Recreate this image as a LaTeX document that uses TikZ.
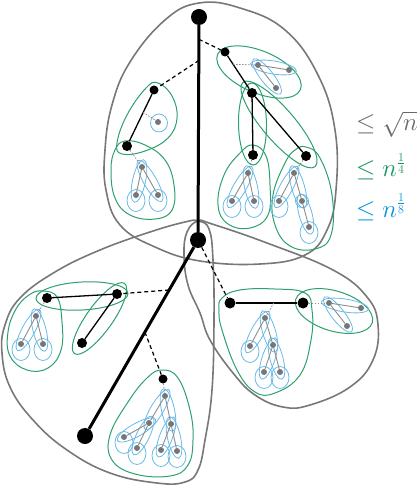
\documentclass[tikz,border=0pt]{standalone}
\usetikzlibrary{calc,shapes.geometric}
\pgfdeclarelayer{back}
\pgfsetlayers{back,main}
\definecolor{ogray}{RGB}{120,120,120}
\definecolor{tgreen}{RGB}{44,160,110}
\definecolor{tblue}{RGB}{105,185,230}
\definecolor{ngray}{RGB}{118,118,118}
\definecolor{egray}{RGB}{140,140,140}
\definecolor{lgreen}{RGB}{20,150,90}
\definecolor{lblue}{RGB}{0,150,215}
\definecolor{lgray}{RGB}{105,105,105}
\newcommand\pairell[5]{%
  \path let \p1=(#2), \p2=(#3) in
    node[#1, ellipse, inner sep=0pt, minimum width={veclen(\x2-\x1,\y2-\y1)+#4}, minimum height=#5, rotate={atan2(\y2-\y1,\x2-\x1)}] at ($(\p1)!0.5!(\p2)$) {};%
}
\newcommand\bpair[2]{\pairell{blu}{#1}{#2}{15pt}{13pt}}
\newcommand\leafloop[1]{\node[blu, ellipse, inner sep=0pt, minimum width=18pt, minimum height=22pt] at ($(#1)+(0,5.5)$) {};}
\begin{document}
\begin{tikzpicture}[x=1pt,y=-1pt,
  outline/.style={draw=ogray, line width=1.6pt},
  grn/.style={draw=tgreen, line width=1pt},
  blu/.style={draw=tblue, line width=0.8pt},
  bignode/.style={circle, fill=black, inner sep=0pt, minimum size=16pt},
  bnode/.style={circle, fill=black, inner sep=0pt, minimum size=10pt},
  gnode/.style={circle, fill=ngray, inner sep=0pt, minimum size=6pt},
  heavy/.style={line width=3pt},
  bedge/.style={line width=1.3pt},
  dashedge/.style={line width=1.2pt, dash pattern=on 4pt off 3pt},
  dotedge/.style={draw=egray, line width=0.8pt, dash pattern=on 1.5pt off 1.5pt},
  tedge/.style={draw=egray, line width=0.9pt},
  lbl/.style={anchor=base west, inner sep=0pt, font=\fontsize{24}{28}\selectfont}
]
\useasboundingbox (0,0) rectangle (416,486);
% ---------- black nodes
\node[bignode] (A) at (199,17) {};
\node[bignode] (B) at (198,240) {};
\node[bignode] (J) at (85,436) {};
\node[bnode, minimum size=9pt] (C) at (225,52) {};
\node[bnode] (E) at (252,93) {};
\node[bnode] (F) at (306,156) {};
\node[bnode] (G) at (253,155) {};
\node[bnode, minimum size=9pt] (D) at (154,90) {};
\node[bnode] (H) at (127,146) {};
\node[bnode] (K) at (117,294) {};
\node[bnode] (L) at (47,298) {};
\node[bnode] (M) at (82,343) {};
\node[bnode, minimum size=9pt] (N) at (163,379) {};
\node[bnode, minimum size=11pt] (P) at (230,303) {};
\node[bnode, minimum size=11pt] (Q) at (303,303) {};
% ---------- gray tree nodes
\node[gnode] (t1a) at (258,65) {};
\node[gnode] (t1b) at (289,70) {};
\node[gnode] (t1c) at (276,88) {};
\node[gnode] (t2a) at (158,122) {};
\node[gnode] (t3a) at (142,167) {};
\node[gnode] (t3b) at (136,195) {};
\node[gnode] (t3c) at (158,195) {};
\node[gnode] (t4a) at (248,173) {};
\node[gnode] (t4b) at (232,201) {};
\node[gnode] (t4c) at (254,201) {};
\node[gnode] (t5a) at (294,173) {};
\node[gnode] (t5b) at (279,201) {};
\node[gnode] (t5c) at (302,201) {};
\node[gnode] (t5d) at (309,227) {};
\node[gnode] (t6a) at (36,316) {};
\node[gnode] (t6b) at (21,344) {};
\node[gnode] (t6c) at (43,344) {};
\node[gnode] (t7a) at (165,396) {};
\node[gnode] (t7b) at (149,423) {};
\node[gnode] (t7c) at (171,424) {};
\node[gnode] (t7d) at (124,437) {};
\node[gnode] (t7e) at (137,448) {};
\node[gnode] (t7f) at (161,450) {};
\node[gnode] (t7g) at (177,451) {};
\node[gnode] (t8a) at (265,318) {};
\node[gnode] (t8b) at (250,346) {};
\node[gnode] (t8c) at (273,345) {};
\node[gnode] (t8d) at (264,372) {};
\node[gnode] (t8e) at (280,372) {};
\node[gnode] (t9a) at (329,303) {};
\node[gnode] (t9b) at (361,308) {};
\node[gnode] (t9c) at (347,326) {};
% ---------- helper coordinates on edges
\coordinate (a1) at ($(A)!0.1!(B)$);
\coordinate (a2) at ($(A)!0.195!(B)$);
\coordinate (b1) at ($(B)!0.255!(J)$);
\coordinate (b2) at ($(B)!0.47!(J)$);
\coordinate (c1) at ($(C)!0.3!(E)$);
\coordinate (d1) at ($(D)!0.4!(H)$);
\coordinate (p1) at ($(P)!0.6!(Q)$);
% ---------- shapes behind
\begin{pgfonlayer}{back}
% gray outlines
\draw[outline] plot[smooth cycle, tension=0.7] coordinates {(199,3) (240,8) (285,30) (318,75) (335,130) (336,190) (327,230) (305,255) (260,264) (200,261) (155,247) (120,225) (106,190) (105,150) (112,105) (130,62) (165,20)};
\draw[outline] plot[smooth cycle, tension=0.7] coordinates {(198,221) (209,229) (213,260) (214,320) (212,390) (205,440) (198,470) (185,482) (157,483) (110,473) (67,450) (33,420) (10,387) (2,353) (5,325) (20,298) (55,272) (100,250) (150,232) (185,222)};
\draw[outline] plot[smooth cycle, tension=0.7] coordinates {(198,221) (212,224) (267,243) (333,270) (367,297) (378,325) (373,360) (350,387) (310,405) (283,407) (255,395) (233,373) (210,340) (200,313) (188,285) (184,255) (187,232)};
% green
\node[grn, ellipse, inner sep=0pt, minimum width=90pt, minimum height=42pt, rotate=-23] at (259,72) {};
\pairell{grn}{E}{G}{20pt}{28pt}
\pairell{grn}{E}{F}{28pt}{32pt}
\pairell{grn}{L}{K}{22pt}{28pt}
\pairell{grn}{K}{M}{26pt}{26pt}
\node[grn, ellipse, inner sep=0pt, minimum width=80pt, minimum height=40pt, rotate=-17] at (334,311) {};
\draw[grn] plot[smooth cycle, tension=0.7] coordinates {(253,145) (266,156) (270,185) (268,215) (250,228) (228,224) (218,205) (224,175) (240,153)};
\draw[grn] plot[smooth cycle, tension=0.7] coordinates {(306,147) (320,158) (332,195) (331,235) (315,249) (290,246) (275,225) (273,195) (285,163) (295,150)};
\draw[grn] plot[smooth cycle, tension=0.7] coordinates {(158,83) (172,96) (177,118) (168,138) (145,151) (122,154) (117,143) (127,115) (146,88)};
\draw[grn] plot[smooth cycle, tension=0.7] coordinates {(125,141) (145,145) (165,160) (174,185) (172,210) (155,219) (130,215) (115,198) (111,170) (115,150)};
\draw[grn] plot[smooth cycle, tension=0.7] coordinates {(42,291) (57,297) (62,322) (61,350) (48,368) (27,370) (10,356) (8,332) (16,309) (29,295)};
\draw[grn] plot[smooth cycle, tension=0.7] coordinates {(162,370) (178,378) (190,410) (193,440) (188,465) (170,476) (135,474) (112,460) (110,435) (128,402) (147,378)};
\draw[grn] plot[smooth cycle, tension=0.7] coordinates {(222,298) (240,290) (275,289) (305,293) (312,310) (311,340) (300,375) (275,393) (255,392) (237,370) (222,330) (219,310)};
% blue
\bpair{t1a}{t1b}\bpair{t1a}{t1c}
\node[blu, ellipse, inner sep=0pt, minimum width=17pt, minimum height=18pt] at (159,123) {};
\bpair{t3a}{t3b}\bpair{t3a}{t3c}\leafloop{t3b}\leafloop{t3c}
\bpair{t4a}{t4b}\bpair{t4a}{t4c}\leafloop{t4b}\leafloop{t4c}
\bpair{t5a}{t5b}\bpair{t5a}{t5c}\bpair{t5c}{t5d}\leafloop{t5b}\leafloop{t5d}
\node[blu, circle, inner sep=0pt, minimum size=13pt] at (t5c) {};
\bpair{t6a}{t6b}\bpair{t6a}{t6c}\leafloop{t6b}\leafloop{t6c}
\bpair{t7a}{t7b}\bpair{t7a}{t7c}\bpair{t7b}{t7d}\bpair{t7b}{t7e}\bpair{t7c}{t7f}\bpair{t7c}{t7g}
\leafloop{t7d}\leafloop{t7e}\leafloop{t7f}\leafloop{t7g}
\bpair{t8a}{t8b}\bpair{t8a}{t8c}\bpair{t8c}{t8d}\bpair{t8c}{t8e}\leafloop{t8b}\leafloop{t8d}\leafloop{t8e}
\bpair{t9a}{t9b}\bpair{t9a}{t9c}
\end{pgfonlayer}
% ---------- edges
\draw[heavy] (A) -- (B);
\draw[heavy] (B) -- (J);
\draw[bedge] (C) -- (E);
\draw[bedge] (E) -- (F);
\draw[bedge] (E) -- (G);
\draw[bedge] (D) -- (H);
\draw[bedge] (L) -- (K);
\draw[bedge] (K) -- (M);
\draw[bedge] (P) -- (Q);
\draw[dashedge] (a1) -- (C);
\draw[dashedge] (a2) -- (D);
\draw[dashedge] (B) -- (P);
\draw[dashedge] (b1) -- (K);
\draw[dashedge] (b2) -- (N);
\draw[dotedge] (c1) -- (t1a);
\draw[dotedge] (d1) -- (t2a);
\draw[dotedge] (H) -- (t3a);
\draw[dotedge] (G) -- (t4a);
\draw[dotedge] (F) -- (t5a);
\draw[dotedge] (L) -- (t6a);
\draw[dotedge] (N) -- (t7a);
\draw[dotedge] (p1) -- (t8a);
\draw[dotedge] (Q) -- (t9a);
\draw[tedge] (t1a) -- (t1b);
\draw[tedge] (t1a) -- (t1c);
\draw[tedge] (t3a) -- (t3b);
\draw[tedge] (t3a) -- (t3c);
\draw[tedge] (t4a) -- (t4b);
\draw[tedge] (t4a) -- (t4c);
\draw[tedge] (t5a) -- (t5b);
\draw[tedge] (t5a) -- (t5c);
\draw[tedge] (t5c) -- (t5d);
\draw[tedge] (t6a) -- (t6b);
\draw[tedge] (t6a) -- (t6c);
\draw[tedge] (t7a) -- (t7b);
\draw[tedge] (t7a) -- (t7c);
\draw[tedge] (t7b) -- (t7d);
\draw[tedge] (t7b) -- (t7e);
\draw[tedge] (t7c) -- (t7f);
\draw[tedge] (t7c) -- (t7g);
\draw[tedge] (t8a) -- (t8b);
\draw[tedge] (t8a) -- (t8c);
\draw[tedge] (t8c) -- (t8d);
\draw[tedge] (t8c) -- (t8e);
\draw[tedge] (t9a) -- (t9b);
\draw[tedge] (t9a) -- (t9c);
% ---------- legend
\node[lbl, text=lgray] (l1) at (356,131) {$\le\sqrt{n}$};
\node[lbl, text=lgreen] (l2) at (356,177) {$\le n^{\frac14}$};
\node[lbl, text=lblue] (l3) at (356,217) {$\le n^{\frac18}$};
\end{tikzpicture}
\end{document}
